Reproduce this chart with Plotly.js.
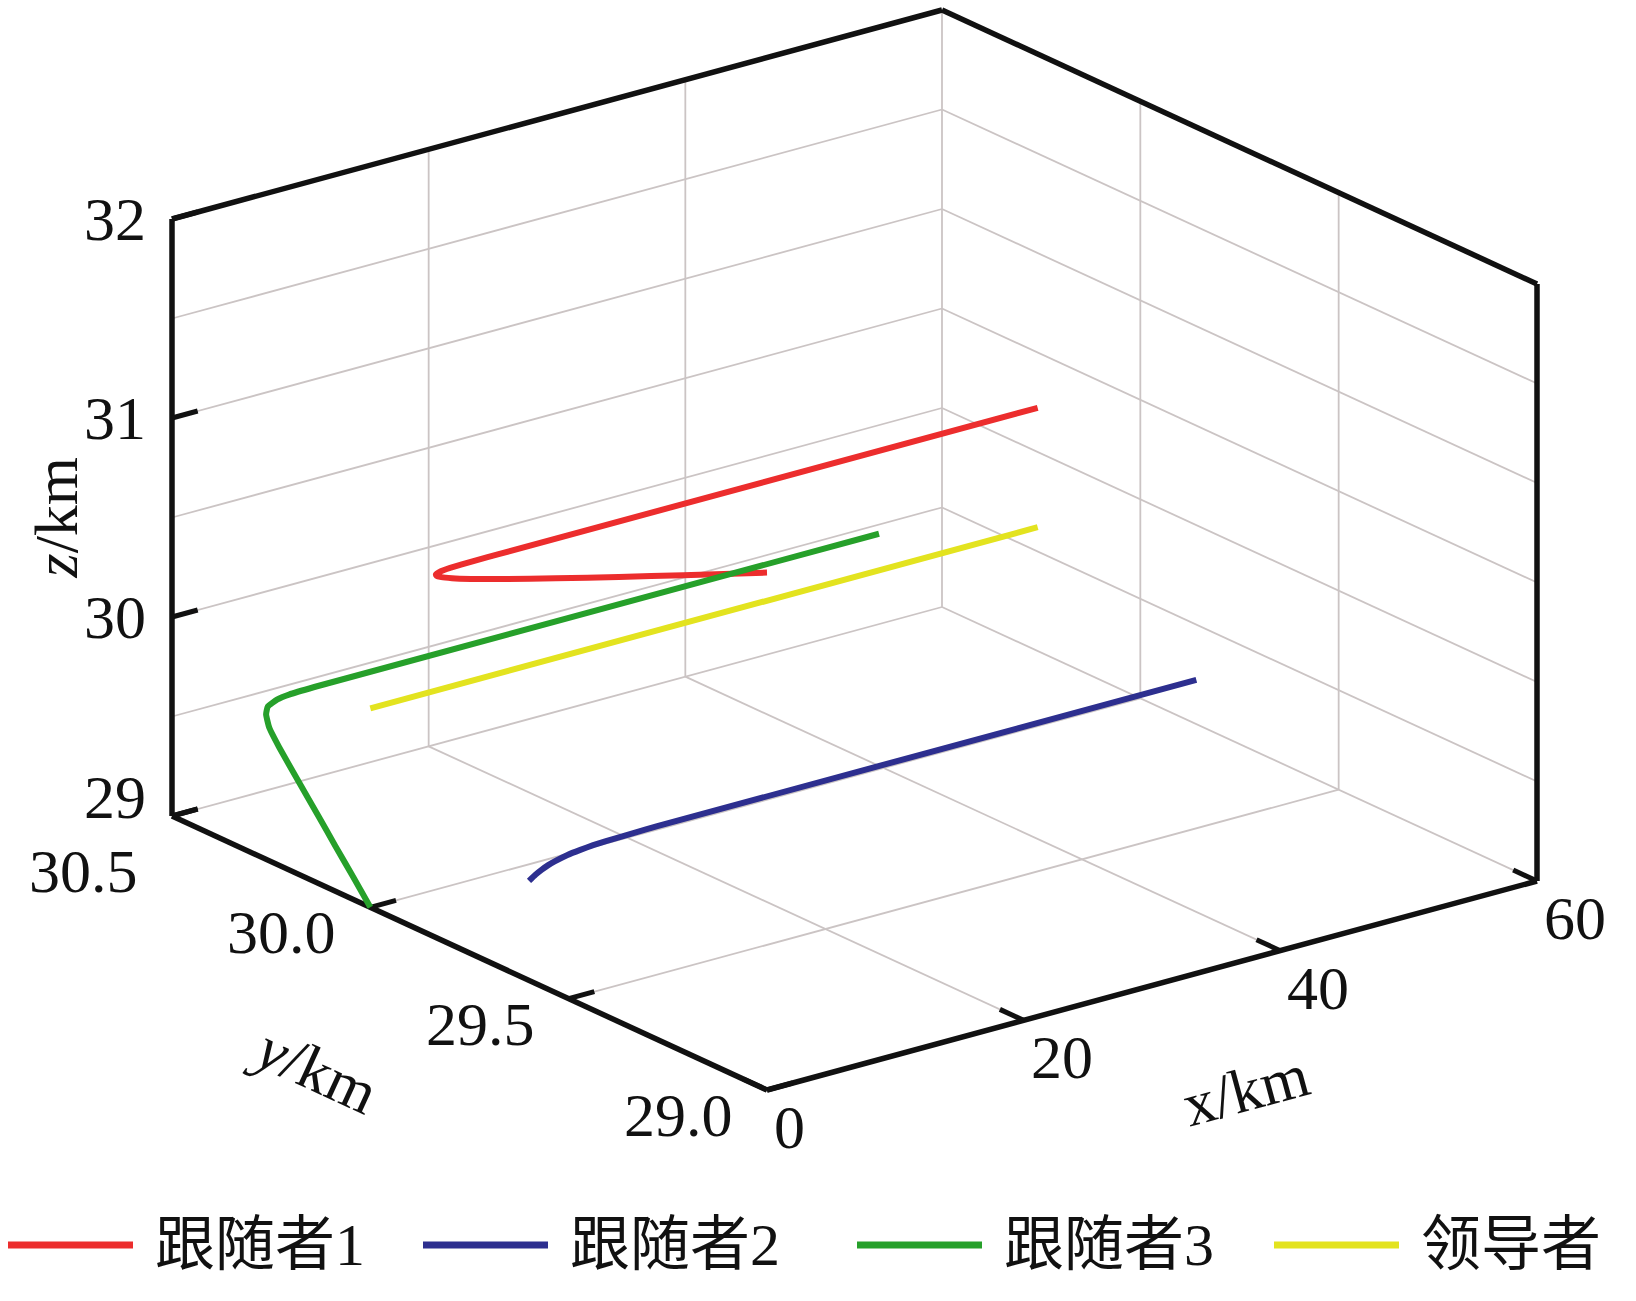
<!DOCTYPE html>
<html><head><meta charset="utf-8">
<script src="https://cdn.plot.ly/plotly-3.0.1.min.js"></script>
<style>html,body{margin:0;padding:0;background:#fff;}#chart{width:1636px;height:1301px;}</style>
</head><body><div id="chart"></div>
<script>
// ---------------- DATA ----------------
const seriesNames = ['跟随者1', '跟随者2', '跟随者3', '领导者'];

// 跟随者1 (red)
const f1X = [0, 0.3, 0.6, 1.0, 1.5, 2.0, 2.5, 3.0, 3.5, 4.0, 5.0, 6.0, 8.0, 10.0, 52];
const f1Y = [29.000, 29.221, 29.393, 29.565, 29.713, 29.811, 29.875, 29.918, 29.946, 29.964, 29.984, 29.993, 29.999, 30.000, 30.000];
const f1Z = [31.600, 31.379, 31.207, 31.035, 30.887, 30.789, 30.725, 30.682, 30.654, 30.636, 30.616, 30.607, 30.601, 30.600, 30.600];

// 跟随者2 (blue)
const f2X = [0, 0.5, 1.0, 1.5, 2.0, 3.0, 4.0, 5.0, 6.0, 8.0, 10.0, 52];
const f2Y = [29.6, 29.6, 29.6, 29.6, 29.6, 29.6, 29.6, 29.6, 29.6, 29.6, 29.6, 29.6];
const f2Z = [29.500, 29.522, 29.539, 29.553, 29.563, 29.578, 29.586, 29.592, 29.595, 29.598, 29.600, 29.600];

// 跟随者3 (green)
const f3X = [0, 0.5, 1.0, 1.5, 2.0, 2.6, 3.0, 3.5, 4.0, 5.0, 6.0, 8.0, 52];
const f3Y = [30.000, 30.060, 30.121, 30.181, 30.242, 30.314, 30.352, 30.376, 30.388, 30.396, 30.399, 30.400, 30.400];
const f3Z = [29.000, 29.091, 29.181, 29.272, 29.362, 29.471, 29.528, 29.564, 29.582, 29.594, 29.598, 29.600, 29.600];

// 领导者 (yellow)
const ldX = [0, 52];
const ldY = [30, 30];
const ldZ = [30, 30];

// Axes: ranges, ticks, labels, grid
const xRange = [0, 60];
const yRange = [29, 30.5];
const zRange = [29, 32];
const xTickVals = [0, 20, 40, 60];
const xTickText = ['0', '20', '40', '60'];
const yTickVals = [29.0, 29.5, 30.0, 30.5];
const yTickText = ['29.0', '29.5', '30.0', '30.5'];
const zTickVals = [29, 30, 31, 32];
const zTickText = ['29', '30', '31', '32'];
const zGridVals = [29.5, 30, 30.5, 31, 31.5];

// ---------------- VIEW (orthographic projection of the 3-D box) ----------------
// pixel positions of the box origin corner and of the three axis-end corners
const view = {
  origin: [767, 1090],   // (xmin, ymin, zmin)
  xEnd: [1537, 881],     // (xmax, ymin, zmin)
  yEnd: [172, 816],      // (xmin, ymax, zmin)
  zEnd: [767, 493]       // (xmin, ymin, zmax)
};
const ex = [(view.xEnd[0] - view.origin[0]) / (xRange[1] - xRange[0]), (view.xEnd[1] - view.origin[1]) / (xRange[1] - xRange[0])];
const ey = [(view.yEnd[0] - view.origin[0]) / (yRange[1] - yRange[0]), (view.yEnd[1] - view.origin[1]) / (yRange[1] - yRange[0])];
const ez = [(view.zEnd[0] - view.origin[0]) / (zRange[1] - zRange[0]), (view.zEnd[1] - view.origin[1]) / (zRange[1] - zRange[0])];
function P(x, y, z) {
  const dx = x - xRange[0], dy = y - yRange[0], dz = z - zRange[0];
  return [view.origin[0] + dx * ex[0] + dy * ey[0] + dz * ez[0],
          view.origin[1] + dx * ex[1] + dy * ey[1] + dz * ez[1]];
}
function segTrace(segs, color, width) {
  const X = [], Y = [];
  segs.forEach(s => {
    const a = P(s[0], s[1], s[2]), b = P(s[3], s[4], s[5]);
    X.push(a[0], b[0], null); Y.push(a[1], b[1], null);
  });
  return {type: 'scatter', mode: 'lines', x: X, y: Y, hoverinfo: 'skip', showlegend: false,
          line: {color: color, width: width}, cliponaxis: false};
}
function seriesTrace(xs, ys, zs, i) {
  const X = [], Y = [];
  for (let k = 0; k < xs.length; k++) { const p = P(xs[k], ys[k], zs[k]); X.push(p[0]); Y.push(p[1]); }
  return {type: 'scatter', mode: 'lines', x: X, y: Y, name: seriesNames[i], hoverinfo: 'skip', showlegend: false,
          line: {color: colors[i], width: 6, shape: 'spline', smoothing: 0.4}, cliponaxis: false};
}

const colors = ['#ec2d2d', '#2d2f8f', '#26a02a', '#e3e31f'];
const serif = 'Liberation Serif, Noto Sans CJK SC, serif';
const [x0, x1] = xRange, [y0, y1] = yRange, [z0, z1] = zRange;

// grid on the three back planes
const gridSegs = [];
const xInner = xTickVals.filter(v => v > x0 && v < x1);
const yInner = yTickVals.filter(v => v > y0 && v < y1);
xInner.forEach(v => { gridSegs.push([v, y1, z0, v, y1, z1]); gridSegs.push([v, y0, z0, v, y1, z0]); });
yInner.forEach(v => { gridSegs.push([x1, v, z0, x1, v, z1]); gridSegs.push([x0, v, z0, x1, v, z0]); });
zGridVals.forEach(v => { gridSegs.push([x0, y1, v, x1, y1, v]); gridSegs.push([x1, y0, v, x1, y1, v]); });
gridSegs.push([x0, y1, z0, x1, y1, z0], [x1, y0, z0, x1, y1, z0], [x1, y1, z0, x1, y1, z1]);

// outer box (visible silhouette)
const boxSegs = [
  [x0, y1, z0, x0, y1, z1], [x0, y1, z1, x1, y1, z1], [x1, y1, z1, x1, y0, z1],
  [x1, y0, z1, x1, y0, z0], [x1, y0, z0, x0, y0, z0], [x0, y0, z0, x0, y1, z0]
];
// tick marks (pointing into the box)
const tickX = 2.0, tickY = 0.06;
const tickSegs = [];
zTickVals.forEach(v => tickSegs.push([x0, y1, v, x0 + tickX, y1, v]));
yTickVals.forEach(v => tickSegs.push([x0, v, z0, x0 + tickX, v, z0]));
xTickVals.forEach(v => tickSegs.push([v, y0, z0, v, y0 + tickY, z0]));

const traces = [
  segTrace(gridSegs, '#cbc4c4', 1.8),
  segTrace(boxSegs, '#111111', 5.5),
  segTrace(tickSegs, '#111111', 5),
  seriesTrace(f1X, f1Y, f1Z, 0),
  seriesTrace(f2X, f2Y, f2Z, 1),
  seriesTrace(f3X, f3Y, f3Z, 2),
  seriesTrace(ldX, ldY, ldZ, 3)
];

// ---------------- TEXT ----------------
const tickFont = {family: serif, size: 62, color: '#111'};
const annotations = [];
function ann(p, text, opts) {
  annotations.push(Object.assign({x: p[0], y: p[1], xref: 'x', yref: 'y', text: text, showarrow: false,
    font: tickFont, xanchor: 'center', yanchor: 'middle'}, opts));
}
zTickVals.forEach((v, i) => ann(P(x0, y1, v), zTickText[i],
  {xanchor: 'right', xshift: -24, yshift: v === z0 ? 19 : 0}));
yTickVals.forEach((v, i) => ann(P(x0, v, z0), yTickText[i],
  {xanchor: 'right', xshift: -32, yshift: v === y1 ? -55 : -25}));
xTickVals.forEach((v, i) => ann(P(v, y0, z0), xTickText[i],
  {xanchor: 'left', xshift: 5, yshift: -37}));

// axis titles, rotated along their axes
const angX = Math.atan2(ex[1], ex[0]) * 180 / Math.PI;
const angY = Math.atan2(-ey[1], -ey[0]) * 180 / Math.PI;
ann(P(x0, y1, (z0 + z1) / 2), '<i>z</i>/km', {textangle: -90, xshift: -117});
ann(P(x0, (y0 + y1) / 2, z0), '<i>y</i>/km', {textangle: angY, xshift: -155, yshift: -116});
ann(P((x0 + x1) / 2, y0, z0), 'x/km', {textangle: angX, xshift: 93, yshift: -104});

// legend row
const legendStart = [8, 423, 857, 1274];
const legendY = 1245, legendLineLen = 125, legendTextGap = 145;
const shapes = [];
seriesNames.forEach((name, i) => {
  shapes.push({type: 'line', xref: 'x', yref: 'y', x0: legendStart[i], x1: legendStart[i] + legendLineLen,
    y0: legendY, y1: legendY, line: {color: colors[i], width: 7}});
  annotations.push({x: legendStart[i] + legendTextGap, y: legendY, xref: 'x', yref: 'y', text: name,
    showarrow: false, xanchor: 'left', yanchor: 'middle', font: {family: serif, size: 60, color: '#111'}});
});

const layout = {
  width: 1636, height: 1301,
  margin: {l: 0, r: 0, t: 0, b: 0},
  paper_bgcolor: '#fff', plot_bgcolor: '#fff',
  showlegend: false,
  xaxis: {range: [0, 1636], visible: false, fixedrange: true},
  yaxis: {range: [1301, 0], visible: false, fixedrange: true},
  annotations: annotations,
  shapes: shapes
};

Plotly.newPlot('chart', traces, layout, {displayModeBar: false, staticPlot: true});
</script></body></html>
